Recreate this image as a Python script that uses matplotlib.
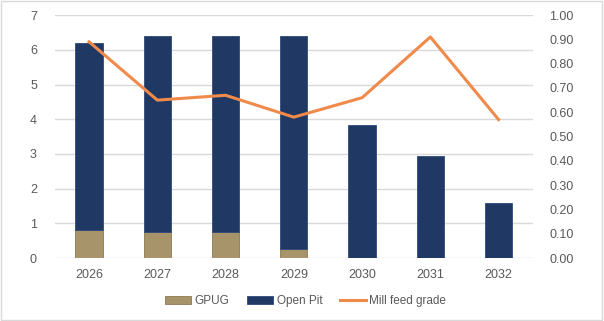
import numpy as np
import matplotlib as mpl
mpl.use('Agg')
from matplotlib import pyplot as plt
from matplotlib.patches import Rectangle

years = ['2026', '2027', '2028', '2029', '2030', '2031', '2032']
gpug = [0.82, 0.76, 0.74, 0.26, 0.0, 0.0, 0.0]
open_pit = [5.38, 5.64, 5.66, 6.14, 3.83, 2.93, 1.58]
mill_feed_grade = [0.89, 0.65, 0.67, 0.58, 0.66, 0.91, 0.57]

navy = '#1F3864'
tan = '#A8946A'
orange = '#F08A4B'
grey_text = '#595959'

plt.rcParams['font.family'] = ['Liberation Sans', 'DejaVu Sans']

fig = plt.figure(figsize=(6.04, 3.21), dpi=100)
ax = fig.add_axes([0.091, 0.196, 0.791, 0.757])
x = np.arange(len(years))

ax.bar(x, gpug, width=0.4, color=tan, edgecolor='#8C7A50', linewidth=0.6,
       label='GPUG', zorder=3)
ax.bar(x, open_pit, width=0.4, bottom=gpug, color=navy, edgecolor='#2E4A7A',
       linewidth=0.6, label='Open Pit', zorder=3)

ax.set_xlim(-0.5, 6.5)
ax.set_ylim(0, 7)
ax.set_yticks(range(8))
ax.set_xticks(x)
ax.set_xticklabels(years)
ax.yaxis.grid(True, color='#D9D9D9', linewidth=1)
ax.set_axisbelow(True)
for s in ax.spines.values():
    s.set_visible(False)
ax.tick_params(length=0, labelsize=9, colors=grey_text, pad=8)
ax.tick_params(axis='y', pad=13)

ax2 = ax.twinx()
ax2.plot(x, mill_feed_grade, color=orange, linewidth=2.2,
         label='Mill feed grade', zorder=4)
ax2.set_ylim(0, 1)
ax2.set_yticks(np.linspace(0, 1, 11))
ax2.set_yticklabels([f'{v:.2f}' for v in np.linspace(0, 1, 11)])
for s in ax2.spines.values():
    s.set_visible(False)
ax2.tick_params(length=0, labelsize=9, colors=grey_text, pad=12)

h1, l1 = ax.get_legend_handles_labels()
h2, l2 = ax2.get_legend_handles_labels()
fig.legend(h1 + h2, l1 + l2, loc='center', bbox_to_anchor=(0.506, 0.062),
           ncol=3, frameon=False, prop={'size': 8.5}, labelcolor=grey_text,
           handlelength=2.2, handleheight=0.7, columnspacing=1.5,
           handletextpad=0.3)

fig.patches.append(Rectangle((0.002, 0.003), 0.995, 0.994, transform=fig.transFigure,
                             fill=False, edgecolor='#D9D9D9', linewidth=1))

fig.savefig('out.png', dpi=100)
